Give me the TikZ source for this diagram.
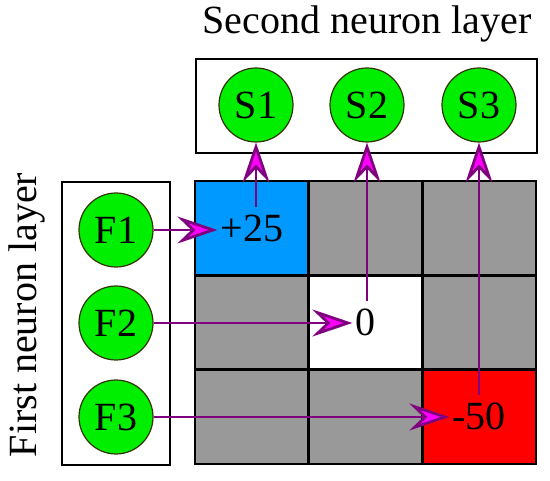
\documentclass[tikz,border=0pt]{standalone}
\usepackage{fontspec}
\setmainfont{Liberation Serif}
\usepackage{tikz}
\usetikzlibrary{arrows.meta,positioning}
\definecolor{neurongreen}{HTML}{00EE00}
\definecolor{neuronedge}{HTML}{333300}
\definecolor{cellblue}{HTML}{0099FF}
\definecolor{cellgray}{HTML}{999999}
\definecolor{cellred}{HTML}{FF0000}
\definecolor{linepurple}{HTML}{800080}
\definecolor{tipmagenta}{HTML}{FF00FF}

\begin{document}
\begin{tikzpicture}[
  x=1pt,y=1pt,
  font=\fontsize{40}{44}\selectfont,
  neuron/.style={
    circle,
    draw=neuronedge,
    fill=neurongreen,
    line width=1.2pt,
    minimum size=74pt,
    inner sep=0pt,
    font=\fontsize{40}{42}\selectfont
  },
  cell/.style={draw=black,line width=2.5pt,minimum width=113.7pt,minimum height=94.3pt,inner sep=0pt,outer sep=0pt},
  layerbox/.style={draw=black,line width=2.5pt,inner sep=0pt},
  value/.style={inner xsep=3pt,inner ysep=8pt},
  link/.style={-{Stealth[length=40pt,width=27pt,inset=14pt,fill=tipmagenta]},draw=linepurple,line width=2.8pt}
]
  \useasboundingbox (0,0) rectangle (550,481);

  \node (secondlabel) at (367,457) {Second neuron layer};
  \node[rotate=90] (firstlabel) at (27,166) {First neuron layer};

  \node[layerbox,minimum width=341pt,minimum height=94pt] (secondbox) at (366.5,375) {};
  \node[layerbox,minimum width=108pt,minimum height=283pt] (firstbox) at (116,157.5) {};

  \node[cell,fill=cellblue] (c11) at (251.85,252.85) {};
  \node[cell,fill=cellgray,right=0pt of c11] (c12) {};
  \node[cell,fill=cellgray,right=0pt of c12] (c13) {};
  \node[cell,fill=cellgray,below=0pt of c11] (c21) {};
  \node[cell,fill=white,right=0pt of c21] (c22) {};
  \node[cell,fill=cellgray,right=0pt of c22] (c23) {};
  \node[cell,fill=cellgray,below=0pt of c21] (c31) {};
  \node[cell,fill=cellgray,right=0pt of c31] (c32) {};
  \node[cell,fill=cellred,right=0pt of c32] (c33) {};

  \node[value] (v11) at (c11) {+25};
  \node[value] (v22) at (c22) {0};
  \node[value] (v33) at (c33) {-50};

  \node[neuron] (s1) at (256,376) {S1};
  \node[neuron] (s2) at (367,376) {S2};
  \node[neuron] (s3) at (479,376) {S3};

  \node[neuron] (f1) at (116,251) {F1};
  \node[neuron] (f2) at (116,158) {F2};
  \node[neuron] (f3) at (116,64) {F3};

  \draw[link] (f1) -- (f1 -| v11.west);
  \draw[link] (f2) -- (f2 -| v22.west);
  \draw[link] (f3) -- (f3 -| v33.west);
  \draw[link] (v11.north -| s1) -- (s1.south);
  \draw[link] (v22.north -| s2) -- (s2.south);
  \draw[link] (v33.north -| s3) -- (s3.south);
\end{tikzpicture}
\end{document}
